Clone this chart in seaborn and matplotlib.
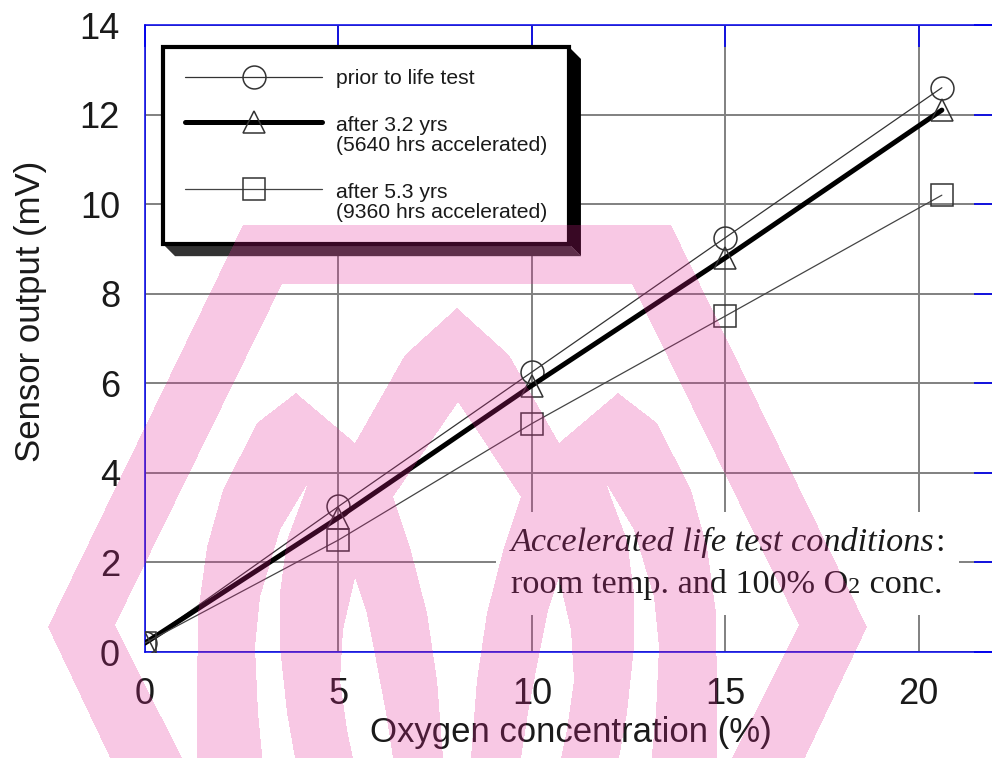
import numpy as np
import matplotlib
matplotlib.use("Agg")
import matplotlib.pyplot as plt
import seaborn as sns
from matplotlib.path import Path
from matplotlib.patches import Polygon
from matplotlib.transforms import IdentityTransform
from matplotlib.legend_handler import HandlerLine2D
from matplotlib.offsetbox import TextArea, HPacker, VPacker, AnchoredOffsetbox

sns.set_theme(style="white")
plt.rcParams["font.family"] = ["Liberation Sans", "DejaVu Sans"]

# Values
oxygen = [0, 5, 10, 15, 20.6]
prior_test = [0.2, 3.25, 6.25, 9.25, 12.6]
after_3_2 = [0.2, 3.0, 5.95, 8.8, 12.1]
after_5_3 = [0.2, 2.5, 5.1, 7.5, 10.2]
labels = ["prior to life test",
          "after 3.2 yrs\n(5640 hrs accelerated)",
          "after 5.3 yrs\n(9360 hrs accelerated)"]
x_ticks = [0, 5, 10, 15, 20]
y_ticks = [0, 2, 4, 6, 8, 10, 12, 14]

# Background watermark outlines (image pixels, y downwards), combined by XOR
wm_hex_outer = [(243, 225), (671, 225), (867, 627), (782, 806), (133, 806), (48, 627)]
wm_hex_inner = [(282, 284), (632, 284), (799, 625), (708, 806), (206, 806), (115, 625)]
wm_m_outer = [(197, 806), (197, 700), (198, 613), (207, 547), (223, 490), (257, 423),
              (296, 393), (355, 443), (405, 355), (457, 308), (509, 355), (559, 443),
              (618, 393), (657, 423), (691, 490), (707, 547), (716, 613), (717, 700),
              (717, 806)]
wm_crescent = [(308, 483), (280, 530), (260, 597), (255, 647), (258, 713), (267, 806),
               (298, 806), (295, 758), (287, 713), (280, 647), (280, 593), (287, 540),
               (302, 500)]
wm_core = [(355, 578), (366, 610), (376, 660), (386, 713), (393, 758), (396, 806),
           (356, 806), (353, 758), (347, 730), (340, 680), (343, 630)]
wm_center = [(458, 402), (393, 497), (410, 547), (427, 613), (437, 680), (443, 758),
             (446, 806), (468, 806), (471, 758), (477, 680), (487, 613), (504, 547),
             (521, 497)]

W, H = 992, 758
fig = plt.figure(figsize=(W / 100, H / 100), dpi=100)
ax = fig.add_axes([145 / W, (H - 652) / H, 851 / W, 627 / H])
ax.set_facecolor("white")

styles = [
    (prior_test, "o", 0.9, "#333333"),
    (after_3_2, "^", 3.6, "black"),
    (after_5_3, "s", 0.9, "#444444"),
]
for values, marker, lw, color in styles:
    sns.lineplot(x=oxygen, y=values, ax=ax, color=color, linewidth=lw,
                 marker=marker, markersize=16.5, mfc="none", mec="#333333",
                 mew=1.1, legend=False, zorder=3)

ax.set_xlim(0, 22)
ax.set_ylim(0, 14)
ax.set_xticks(x_ticks)
ax.set_yticks(y_ticks)
ax.grid(True, color="#808080", linewidth=1.4)
ax.tick_params(axis="both", direction="in", length=16, width=1.2, color="#0000ee",
               labelsize=26, labelcolor="#1a1a1a", top=True, right=True, pad=18)
for spine in ax.spines.values():
    spine.set_color("#0000ee")
    spine.set_linewidth(1.1)

ax.set_xlabel("Oxygen concentration (%)", fontsize=25, color="#1a1a1a")
ax.set_ylabel("Sensor output (mV)", fontsize=25, color="#1a1a1a")
ax.xaxis.set_label_coords(0.5, -0.102)
ax.yaxis.set_label_coords(-0.115, 0.543)


# legend: keep the line on the first row of two-row labels
class HandlerTopLine(HandlerLine2D):
    def __init__(self, shift, **kw):
        super().__init__(**kw)
        self.shift = shift

    def create_artists(self, legend, orig_handle, xdescent, ydescent, width,
                       height, fontsize, trans):
        return super().create_artists(legend, orig_handle, xdescent,
                                      ydescent - 2 * self.shift, width, height,
                                      fontsize, trans)


handles = ax.lines[:3]
leg = ax.legend(handles, labels, loc="upper left", bbox_to_anchor=(0.0212, 0.9650),
                borderaxespad=0, frameon=True, fancybox=False, edgecolor="black",
                facecolor="white", framealpha=1, fontsize=15.2, handlelength=6.5,
                handletextpad=0.62, borderpad=1.05, labelspacing=1.3,
                handler_map={handles[1]: HandlerTopLine(9.4),
                             handles[2]: HandlerTopLine(9.4)})
leg.get_frame().set_linewidth(3)
leg.set_zorder(5)
for t in leg.get_texts():
    t.set_linespacing(1.1)
    t.set_color("#1a1a1a")

# note on the test conditions
serif = "Liberation Serif"
row1 = HPacker(children=[
    TextArea("Accelerated life test conditions",
             textprops=dict(family=serif, style="italic", size=24.7, color="#1a1a1a")),
    TextArea(":", textprops=dict(family=serif, size=24.7, color="#1a1a1a")),
], align="baseline", pad=0, sep=0)
row2 = HPacker(children=[
    TextArea("room temp. and 100% O", textprops=dict(family=serif, size=24.7, color="#1a1a1a")),
    TextArea("2", textprops=dict(family=serif, size=17.5, color="#1a1a1a")),
    TextArea(" conc.", textprops=dict(family=serif, size=24.7, color="#1a1a1a")),
], align="baseline", pad=0, sep=0)
note = AnchoredOffsetbox(loc="upper left",
                         child=VPacker(children=[row1, row2], align="left", pad=0, sep=8),
                         pad=0.45, borderpad=0, frameon=True, prop=dict(size=24),
                         bbox_to_anchor=(0.4125, 0.2233), bbox_transform=ax.transAxes)
note.patch.set_facecolor("white")
note.patch.set_edgecolor("none")
note.set_zorder(2.5)
ax.add_artist(note)

# legend shadow
fig.canvas.draw()
bb = leg.get_frame().get_window_extent()
d = 12
x0, y0, x1, y1 = bb.x0, bb.y0, bb.x1, bb.y1
ax.add_artist(Polygon([(x1, y1), (x1 + d, y1 - d), (x1 + d, y0 - d), (x1, y0)],
                      closed=True, transform=IdentityTransform(), facecolor="black",
                      edgecolor="none", zorder=4.9))
ax.add_artist(Polygon([(x0, y0), (x1, y0), (x1 + d, y0 - d), (x0 + d, y0 - d)],
                      closed=True, transform=IdentityTransform(), facecolor="#333333",
                      edgecolor="none", zorder=4.9))

# pink watermark over everything
yy, xx = np.mgrid[0:H, 0:W]
pts = np.column_stack([xx.ravel() + 0.5, yy.ravel() + 0.5])
mask = np.zeros(H * W, dtype=bool)
shapes = [wm_hex_outer, wm_hex_inner, wm_m_outer, wm_crescent,
          [(914 - x, y) for x, y in wm_crescent], wm_core,
          [(914 - x, y) for x, y in wm_core], wm_center]
for shape in shapes:
    mask ^= Path(shape).contains_points(pts)
overlay = np.zeros((H, W, 4))
overlay[..., 0] = 228 / 255
overlay[..., 1] = 36 / 255
overlay[..., 2] = 148 / 255
overlay[..., 3] = mask.reshape(H, W) * 0.25
fig.figimage(overlay, xo=0, yo=0, origin="upper", zorder=10)

fig.savefig("out.png", dpi=100)
plt.close(fig)
